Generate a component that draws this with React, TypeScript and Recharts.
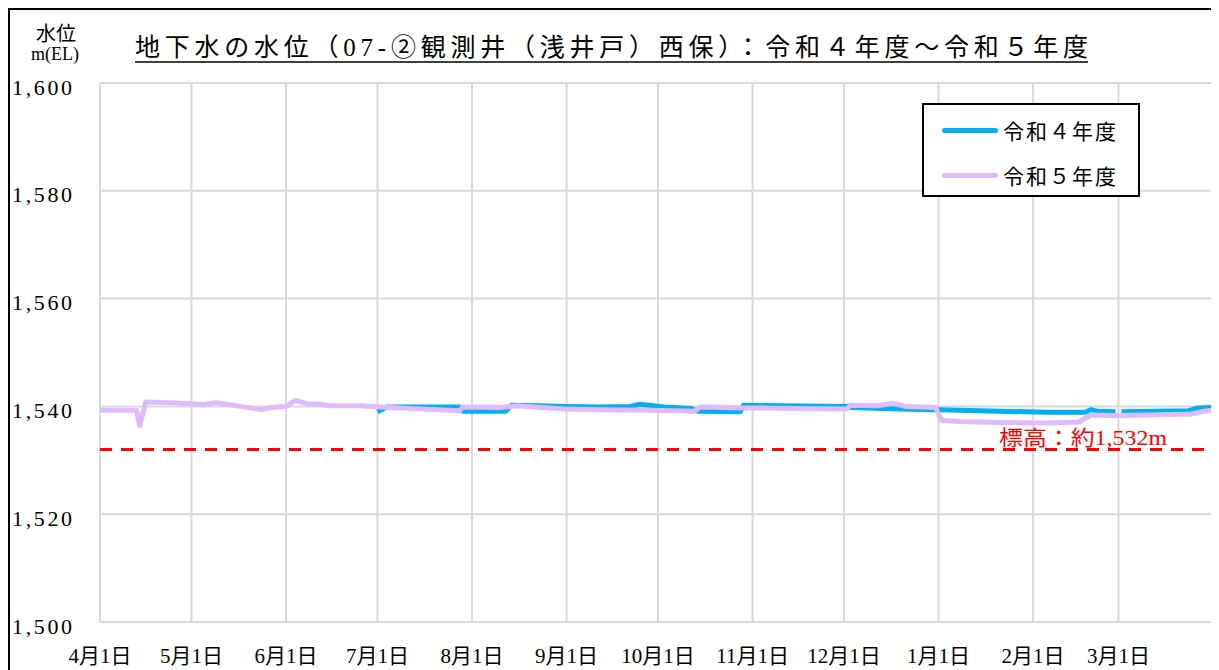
import { LineChart, Line, XAxis, YAxis, CartesianGrid, ReferenceLine, Legend } from 'recharts';

// day index from 4月1日 (0) to 3月31日 (364)
const monthDays = [0, 30, 61, 91, 122, 153, 183, 214, 244, 275, 306, 334];
const monthLabels = ['4月1日', '5月1日', '6月1日', '7月1日', '8月1日', '9月1日', '10月1日', '11月1日', '12月1日', '1月1日', '2月1日', '3月1日'];

const levelTicks = [1500, 1520, 1540, 1560, 1580, 1600];
const levelLabels = ['1,500', '1,520', '1,540', '1,560', '1,580', '1,600'];

// 令和４年度 (observation starts 7月1日, gap around 3月1日)
const r4Days = [91, 94, 105, 118, 119, 133, 135, 144, 153, 164, 174, 177, 185, 194, 196, 210, 211, 223, 245, 246, 262, 275, 295, 311, 323, 325, 327, 333, 334, 335, 357, 360, 365];
const r4Levels = [1539.0, 1539.9, 1539.9, 1539.9, 1539.1, 1539.1, 1540.2, 1540.1, 1540.0, 1539.9, 1540.0, 1540.4, 1539.9, 1539.6, 1539.1, 1539.0, 1540.2, 1540.1, 1540.0, 1539.8, 1539.5, 1539.4, 1539.1, 1538.9, 1538.9, 1539.4, 1539.1, 1539.0, null, 1539.0, 1539.2, 1539.7, 1539.8];

// 令和５年度
const r5Days = [0, 12, 13, 15, 23, 30, 34, 38, 46, 53, 56, 61, 64, 68, 72, 76, 85, 92, 105, 118, 119, 131, 137, 152, 164, 180, 195, 197, 210, 216, 229, 245, 246, 255, 260, 264, 274, 276, 282, 295, 311, 321, 325, 331, 344, 358, 362, 365];
const r5Levels = [1539.3, 1539.3, 1536.4, 1540.8, 1540.7, 1540.5, 1540.3, 1540.7, 1540.0, 1539.4, 1539.8, 1540.0, 1541.1, 1540.5, 1540.4, 1540.1, 1540.1, 1539.9, 1539.5, 1539.2, 1539.9, 1539.8, 1540.1, 1539.5, 1539.4, 1539.3, 1539.1, 1539.9, 1539.7, 1539.7, 1539.6, 1539.5, 1540.2, 1540.1, 1540.6, 1540.0, 1539.8, 1537.4, 1537.2, 1537.0, 1536.9, 1537.1, 1538.4, 1538.3, 1538.4, 1538.6, 1539.1, 1539.3];

const groundLevel = 1532;

const r4Data = r4Days.map((day, i) => ({ day, level: r4Levels[i] }));
const r5Data = r5Days.map((day, i) => ({ day, level: r5Levels[i] }));

const series = [
  { name: '令和４年度', color: '#00B0F0' },
  { name: '令和５年度', color: '#DFBAFC' },
];

const FONT = "'Liberation Serif', 'Noto Sans CJK JP', serif";

const MonthTick = (props: any) => {
  const { x, payload } = props;
  const label = monthLabels[monthDays.indexOf(payload.value)];
  return (
    <text x={x} y={646} textAnchor="middle" dominantBaseline="central" fontSize={21} fontFamily={FONT} fill="#000">
      {label}
    </text>
  );
};

const LevelTick = (props: any) => {
  const { y, payload } = props;
  const label = levelLabels[levelTicks.indexOf(payload.value)];
  return (
    <text x={2} y={y + 4} dominantBaseline="central" fontSize={22} fontFamily={FONT} fill="#000" textLength={60} lengthAdjust="spacing">
      {label}
    </text>
  );
};

const GroundLabel = (props: any) => {
  const { viewBox } = props;
  return (
    <text x={viewBox.x + viewBox.width - 46} y={viewBox.y - 5} textAnchor="end" fontSize={21} fontFamily={FONT} fill="#FF0000" textLength={168} lengthAdjust="spacingAndGlyphs">
      標高：約1,532m
    </text>
  );
};

const LegendBox = () => (
  <div style={{ width: 218, height: 94, border: '2px solid #000', boxSizing: 'border-box', background: '#fff', position: 'relative' }}>
    {series.map((s, i) => (
      <div key={s.name} style={{ position: 'absolute', left: 18, top: 10 + i * 45, height: 30, display: 'flex', alignItems: 'center' }}>
        <span style={{ display: 'inline-block', width: 56, height: 5, borderRadius: 3, background: s.color }} />
        <span style={{ marginLeft: 5, fontSize: 21, fontFamily: FONT, letterSpacing: 2, color: '#000' }}>{s.name}</span>
      </div>
    ))}
  </div>
);

export default function App() {
  return (
    <div style={{ width: 1208, height: 672, border: '2px solid #000', boxSizing: 'border-box', position: 'relative', background: '#fff' }}>
      <style>{'body{overflow:hidden}'}</style>
      <svg width={1204} height={70} style={{ position: 'absolute', left: 0, top: 0 }}>
        <text x={125} y={46} fontSize={25} fontFamily={FONT} fill="#000" textLength={953} lengthAdjust="spacing">
          地下水の水位（07-②観測井（浅井戸）西保）：令和４年度～令和５年度
        </text>
        <line x1={125} x2={1078} y1={52} y2={52} stroke="#000" strokeWidth={1.5} />
        <text x={46} y={31} textAnchor="middle" fontSize={20} fontFamily={FONT} fill="#000">水位</text>
        <text x={45} y={50} textAnchor="middle" fontSize={19} fontFamily={FONT} fill="#000" textLength={48} lengthAdjust="spacingAndGlyphs">m(EL)</text>
      </svg>
      <LineChart width={1204} height={668} margin={{ top: 73, right: 1, bottom: 26, left: 10 }}>
        <CartesianGrid stroke="#D9D9D9" strokeWidth={2} />
        <XAxis
          dataKey="day"
          type="number"
          domain={[0, 365]}
          ticks={monthDays}
          interval={0}
          height={30}
          axisLine={false}
          tickLine={false}
          tick={<MonthTick />}
        />
        <YAxis
          type="number"
          domain={[1500, 1600]}
          ticks={levelTicks}
          width={80}
          axisLine={false}
          tickLine={false}
          tick={<LevelTick />}
        />
        <ReferenceLine y={groundLevel} stroke="#FF0000" strokeWidth={3} strokeDasharray="12 9" label={<GroundLabel />} />
        <Legend
          layout="horizontal"
          verticalAlign="middle"
          align="center"
          content={<LegendBox />}
          wrapperStyle={{ position: 'absolute', left: 912, top: 93, width: 218, height: 94 }}
        />
        <Line
          data={r4Data}
          dataKey="level"
          name={series[0].name}
          type="linear"
          stroke={series[0].color}
          strokeWidth={5}
          strokeLinejoin="round"
          dot={false}
          activeDot={false}
          isAnimationActive={false}
        />
        <Line
          data={r5Data}
          dataKey="level"
          name={series[1].name}
          type="linear"
          stroke={series[1].color}
          strokeWidth={5}
          strokeLinejoin="round"
          dot={false}
          activeDot={false}
          isAnimationActive={false}
        />
      </LineChart>
    </div>
  );
}
